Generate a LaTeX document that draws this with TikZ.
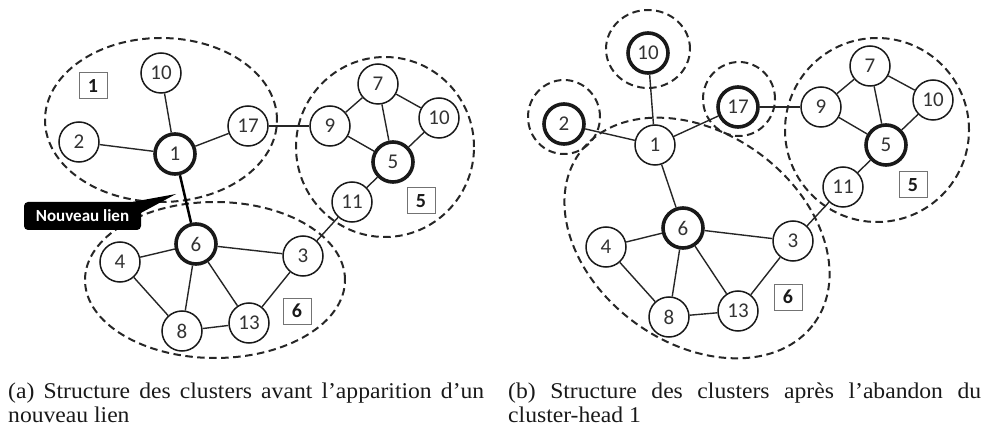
\documentclass[tikz,border=0pt]{standalone}
\usepackage{fontspec}
\setmainfont{Carlito}
\newfontfamily\capfont[FakeStretch=1.05]{Liberation Serif}
\begin{document}
\begin{tikzpicture}[x=1pt,y=-1pt,
  vert/.style={circle, draw=black!90, line width=1.5pt, fill=white,
    minimum size=40pt, inner sep=0pt, text=black!80,
    font=\fontsize{21}{21}\selectfont},
  head/.style={vert, line width=3.6pt},
  link/.style={line width=1.4pt, draw=black!85},
  newlink/.style={line width=2.5pt, draw=black},
  cluster/.style={draw=black!85, line width=2pt, dash pattern=on 7.5pt off 4.5pt},
  tag/.style={draw=black!55, line width=1pt, minimum width=28pt,
    minimum height=26pt, inner sep=0pt, text=black!90,
    font=\bfseries\fontsize{20}{20}\selectfont},
  callout/.style={fill=black, rounded corners=4pt, text=white,
    minimum width=117pt, minimum height=28pt, inner sep=0pt,
    font=\bfseries\fontsize{17}{17}\selectfont},
  caption/.style={anchor=base west, inner sep=0pt,
    font=\capfont\fontsize{22.5}{22.5}\selectfont, text=black!90}
]
\useasboundingbox (0,0) rectangle (987,430);

% ---------- (a) clusters before the new link ----------
\draw[cluster] (161,120) ellipse [x radius=116pt, y radius=82pt];
\draw[cluster] (385,147) ellipse [x radius=89pt, y radius=90pt];
\draw[cluster] (215,280) ellipse [x radius=130pt, y radius=78pt];

\node[vert] (n10a) at (161,73) {10};
\node[vert] (n2a)  at (79,142) {2};
\node[head] (n1a)  at (175,154) {1};
\node[vert] (n17a) at (248,126) {17};
\node[vert] (n9a)  at (330,126) {9};
\node[vert] (n7a)  at (378,84) {7};
\node[vert] (nta)  at (439,118) {10};
\node[head] (n5a)  at (393,162) {5};
\node[vert] (n11a) at (352,202) {11};
\node[vert] (n3a)  at (303,256) {3};
\node[head] (n6a)  at (196,244) {6};
\node[vert] (n4a)  at (120,262) {4};
\node[vert] (n8a)  at (182,331) {8};
\node[vert] (n13a) at (249,323) {13};

\node[tag] (ta1) at (93,86) {1};
\node[tag] (ta5) at (421,201) {5};
\node[tag] (ta6) at (297,311) {6};

\draw[newlink] (n1a) -- (n6a);

% ---------- (b) clusters after cluster-head 1 leaves ----------
\draw[cluster] (648,49) ellipse [x radius=42pt, y radius=39pt];
\draw[cluster] (564,117) ellipse [x radius=36pt, y radius=37pt];
\draw[cluster] (739,99) ellipse [x radius=36pt, y radius=37pt];
\draw[cluster] (877,130) ellipse [x radius=92pt, y radius=92pt];
\draw[cluster, rotate around={-36:(697,238)}] (697,238) ellipse [x radius=145pt, y radius=105pt];

\node[head] (n10b) at (648,53) {10};
\node[head] (n2b)  at (564,124) {2};
\node[vert] (n1b)  at (655,145) {1};
\node[head] (n17b) at (738,107) {17};
\node[vert] (n9b)  at (821,107) {9};
\node[vert] (n7b)  at (870,66) {7};
\node[vert] (ntb)  at (933,100) {10};
\node[head] (n5b)  at (886,145) {5};
\node[vert] (n11b) at (843,187) {11};
\node[vert] (n3b)  at (793,241) {3};
\node[head] (n6b)  at (683,228) {6};
\node[vert] (n4b)  at (606,247) {4};
\node[vert] (n8b)  at (669,317) {8};
\node[vert] (n13b) at (738,311) {13};

\node[tag] (tb5) at (913,185) {5};
\node[tag] (tb6) at (788,297) {6};

\draw[link] (n1b) -- (n6b);

% ---------- links shared by both structures ----------
\foreach \p in {a,b}{
  \foreach \u/\v in {10/1, 2/1, 17/1, 17/9, 9/7, 7/t, 7/5, 9/5, t/5,
                     5/11, 11/3, 6/3, 6/4, 6/8, 6/13, 4/8, 8/13, 13/3}{
    \draw[link] (n\u\p) -- (n\v\p);
  }
}

% ---------- annotation of the new link ----------
\node[callout] (nl) at (82.5,216) {Nouveau lien};
\coordinate (nltip) at (176,194);
\fill ([xshift=-8pt]nl.north east) -- (nltip) -- ([yshift=-11pt]nl.north east) -- cycle;

% ---------- sub-captions ----------
\node[caption] (capa1) at (8,398) {\makebox[476pt][s]{(a) Structure des clusters avant l’apparition d’un}};
\node[caption] (capa2) at (8,422) {nouveau lien};
\node[caption] (capb1) at (508,398) {\makebox[473pt][s]{(b) Structure des clusters après l’abandon du}};
\node[caption] (capb2) at (508,422) {cluster-head 1};
\end{tikzpicture}
\end{document}
